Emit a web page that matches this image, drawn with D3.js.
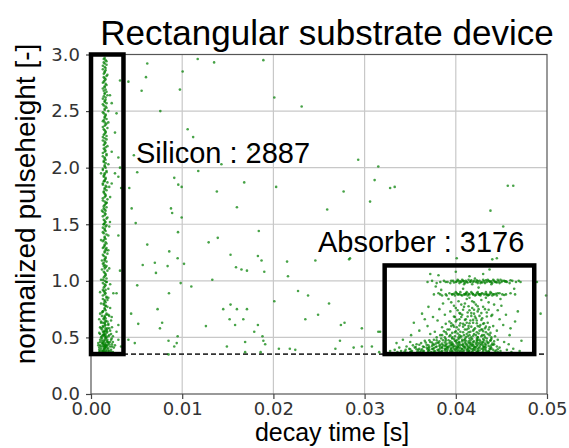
<!DOCTYPE html>
<html>
<head>
<meta charset="utf-8">
<script src="https://cdn.jsdelivr.net/npm/d3@7"></script>
<style>
  html, body { margin: 0; padding: 0; background: #fff; }
  svg { display: block; }
</style>
</head>
<body>
<div id="chart"></div>
<script>
// decay time in ms, normalized pulseheight
const siliconEvents = [
  [1.5,2.97],[1.6,2.95],[1.4,2.93],[1.7,2.91],[1.5,2.89],[1.3,2.87],[1.6,2.86],[1.5,2.84],[1.8,2.82],[1.4,2.80],
  [1.6,2.78],[1.5,2.77],[1.3,2.75],[1.7,2.73],[1.5,2.71],[1.6,2.69],[1.4,2.68],[1.5,2.66],[1.8,2.64],[1.6,2.62],
  [1.3,2.61],[1.5,2.59],[1.7,2.57],[1.4,2.55],[1.6,2.54],[1.5,2.52],[1.9,2.50],[1.3,2.49],[1.6,2.47],[1.5,2.45],
  [1.7,2.43],[1.4,2.42],[1.5,2.40],[1.6,2.38],[1.3,2.36],[1.8,2.35],[1.5,2.33],[1.6,2.31],[1.4,2.29],[1.7,2.28],
  [1.5,2.26],[1.3,2.24],[1.6,2.22],[1.5,2.21],[1.8,2.19],[1.4,2.17],[1.6,2.15],[1.5,2.14],[1.7,2.12],[1.3,2.10],
  [1.5,2.08],[1.6,2.07],[1.4,2.05],[1.9,2.03],[1.5,2.01],[1.6,2.00],[1.3,1.98],[1.7,1.96],[1.5,1.94],[1.4,1.93],
  [1.6,1.91],[1.5,1.89],[1.8,1.87],[1.3,1.86],[1.6,1.84],[1.5,1.82],[1.7,1.80],[1.4,1.79],[1.5,1.77],[1.6,1.75],
  [1.3,1.73],[1.8,1.72],[1.5,1.70],[1.6,1.68],[1.4,1.66],[1.7,1.65],[1.5,1.63],[1.3,1.61],[1.6,1.59],[1.5,1.58],
  [1.8,1.56],[1.4,1.54],[1.6,1.52],[1.5,1.51],[1.7,1.49],[1.3,1.47],[1.5,1.45],[1.6,1.44],[1.4,1.42],[1.9,1.40],
  [1.5,1.38],[1.6,1.37],[1.3,1.35],[1.7,1.33],[1.5,1.31],[1.4,1.30],[1.6,1.28],[1.5,1.26],[1.8,1.24],[1.3,1.23],
  [1.6,1.21],[1.5,1.19],[1.7,1.17],[1.4,1.16],[1.5,1.14],[1.6,1.12],[1.2,1.10],[1.8,1.09],[1.5,1.07],[1.6,1.05],
  [1.4,1.03],[1.7,1.02],[1.5,1.00],[1.3,0.98],[1.6,0.96],[1.5,0.95],[1.9,0.93],[1.4,0.91],[1.6,0.89],[1.5,0.88],
  [1.7,0.86],[1.3,0.84],[1.5,0.82],[1.6,0.81],[1.4,0.79],[1.8,0.77],[1.5,0.75],[1.6,0.74],[1.2,0.72],[1.7,0.70],
  [1.5,0.68],[1.4,0.67],[1.6,0.65],[1.5,0.63],[1.9,0.61],[1.3,0.60],[1.6,0.58],[1.5,0.56],[1.7,0.54],[1.4,0.53],
  [1.5,0.51],[1.6,0.49],[1.2,0.47],[1.8,0.46],[1.5,0.44],[1.6,0.42],[1.4,0.40],[1.7,0.39],[1.5,0.37],
  [1.4,2.96],[1.7,2.94],[1.5,2.92],[1.3,2.90],[1.6,2.88],[1.5,2.85],[1.4,2.83],[1.7,2.81],[1.5,2.79],[1.4,2.76],
  [1.6,2.74],[1.5,2.72],[1.3,2.70],[1.7,2.67],[1.5,2.65],[1.4,2.63],[1.6,2.60],[1.5,2.58],[1.3,2.56],[1.7,2.53],
  [1.5,2.51],[1.4,2.48],[1.6,2.46],[1.5,2.44],[1.3,2.41],[1.7,2.39],[1.5,2.37],[1.4,2.34],[1.6,2.32],[1.5,2.30],
  [1.3,2.27],[1.7,2.25],[1.5,2.23],[1.4,2.20],[1.6,2.18],[1.5,2.16],[1.3,2.13],[1.7,2.11],[1.5,2.09],[1.4,2.06],
  [1.6,2.04],[1.5,2.02],[1.3,1.99],[1.7,1.97],[1.5,1.95],[1.4,1.92],[1.6,1.90],[1.5,1.88],[1.3,1.85],[1.7,1.83],
  [1.5,1.81],[1.4,1.78],[1.6,1.76],[1.5,1.74],[1.3,1.71],[1.7,1.69],[1.5,1.67],[1.4,1.64],[1.6,1.62],[1.5,1.60],
  [1.3,1.57],[1.7,1.55],[1.5,1.53],[1.4,1.50],[1.6,1.48],[1.5,1.46],[1.3,1.43],[1.7,1.41],[1.5,1.39],[1.4,1.36],
  [1.6,1.34],[1.5,1.32],[1.3,1.29],[1.7,1.27],[1.5,1.25],[1.4,1.22],[1.6,1.20],[1.5,1.18],[1.3,1.15],[1.7,1.13],
  [1.5,1.11],[1.4,1.08],[1.6,1.06],[1.5,1.04],[1.3,1.01],[1.7,0.99],[1.5,0.97],[1.4,0.94],[1.6,0.92],[1.5,0.90],
  [1.3,0.87],[1.7,0.85],[1.5,0.83],[1.4,0.80],[1.6,0.78],[1.5,0.76],[1.3,0.73],[1.7,0.71],[1.5,0.69],[1.4,0.66],
  [1.6,0.64],[1.5,0.62],[1.3,0.59],[1.7,0.57],[1.5,0.55],[1.4,0.52],[1.6,0.50],[1.5,0.48],[1.3,0.45],[1.7,0.43],
  [1.5,0.41],[1.4,0.38],[1.6,0.36],
  [1.1,1.95],[2.0,1.83],[1.2,1.62],[2.0,1.48],[1.1,1.36],[1.9,1.27],[1.2,1.18],[2.0,1.11],[1.1,1.01],[2.1,0.97],
  [1.0,0.90],[1.9,0.85],[1.1,0.80],[2.1,0.76],[1.0,0.71],[2.0,0.69],[1.4,1.88],[1.7,1.69],[1.4,1.50],[1.7,1.29],
  [1.4,1.13],[1.7,0.99],[1.3,0.92],[1.8,0.83],[1.6,0.78],[1.3,0.73],
  [0.9,0.66],[1.1,0.64],[2.2,0.65],[1.9,0.62],[1.0,0.59],[2.3,0.59],[1.2,0.57],[1.8,0.55],[2.1,0.56],[0.9,0.54],
  [1.3,0.52],[2.0,0.52],[2.4,0.51],[1.1,0.50],[1.7,0.50],[1.0,0.48],[1.4,0.47],[2.2,0.48],[1.9,0.46],[0.8,0.45],
  [1.2,0.45],[1.6,0.45],[2.3,0.44],[1.0,0.43],[1.3,0.42],[1.8,0.43],[2.1,0.42],[2.5,0.41],[0.9,0.41],[1.1,0.40],
  [1.5,0.40],[1.9,0.40],[2.2,0.39],[1.0,0.38],[1.3,0.38],[1.6,0.38],[2.0,0.38],[2.4,0.37],[0.9,0.37],[1.2,0.36],
  [1.4,0.36],[1.8,0.36],[2.1,0.36],[1.1,0.35],[1.5,0.35],[1.7,0.35],[2.3,0.35],[1.3,0.37],[1.6,0.41],[1.4,0.43],
  [1.7,0.47],[1.2,0.49],[1.5,0.53],[1.8,0.58],[1.3,0.55],[1.6,0.61],[1.1,0.63],
  [1.0,0.36],[1.2,0.38],[1.4,0.39],[1.7,0.37],[1.9,0.38],[2.2,0.37],[0.9,0.39],[1.1,0.42],[1.5,0.42],[1.8,0.41],
  [2.0,0.44],[2.3,0.42],[0.8,0.43],[1.3,0.44],[1.6,0.43],[2.1,0.46],[1.0,0.46],[1.4,0.46],[1.8,0.48],[2.4,0.46],
  [1.2,0.51],[1.6,0.52],[1.9,0.51],[1.0,0.53],[2.2,0.53],[1.4,0.55],[1.7,0.56],[1.1,0.58],[2.0,0.58],[1.5,0.60],
  [1.3,0.63],[1.8,0.64],[1.6,0.67],[1.2,0.69],[1.9,0.70],
  [3.18,2.77],[2.08,2.64],[2.27,2.57],[2.8,2.48],[1.9,2.40],[2.63,2.31],[3.0,2.09],[2.27,2.14],[3.18,2.0],[2.63,1.95],
  [3.0,1.92],[3.3,1.82],[2.27,1.86],[2.1,1.74],[3.0,1.40],[2.08,1.52],[3.18,1.09],[2.45,0.89],[2.8,0.89],[2.27,0.68],
  [3.0,0.61],[2.8,0.55],[3.0,0.48],[2.27,0.49],[2.63,0.43],[3.3,0.42],[1.9,0.45]
];

const absorberEvents = [
  // ~1.0 line
  [36.9,0.99],[37.4,1.00],[37.9,0.98],[38.3,0.99],[38.7,1.00],[39.1,0.99],[39.4,0.98],[39.7,1.00],[40.0,0.99],[40.2,1.01],
  [40.4,0.98],[40.6,0.99],[40.8,1.00],[41.0,0.98],[41.2,0.99],[41.4,1.01],[41.6,0.99],[41.8,0.97],[42.0,1.00],[42.2,0.99],
  [42.4,0.98],[42.6,1.00],[42.8,0.99],[43.0,1.01],[43.2,0.98],[43.4,0.99],[43.6,1.00],[43.8,0.99],[44.0,0.98],[44.2,1.00],
  [44.4,0.99],[44.6,1.01],[44.8,0.98],[45.0,0.99],[45.3,1.00],[45.6,0.99],[45.9,0.98],[46.2,1.00],[46.6,0.99],[47.1,0.99],
  [40.3,1.00],[41.1,1.00],[41.9,0.99],[42.7,0.98],[43.5,1.01],[44.3,0.99],[45.1,1.00],[39.5,1.00],[42.1,1.02],[43.9,0.97],
  [40.9,0.97],[44.9,1.01],[41.5,1.04],[43.0,1.06],[38.1,1.05],[40.0,1.08],[37.2,1.06],[43.7,1.10],
  [39.8,0.985],[40.5,0.995],[41.3,0.985],[42.3,1.005],[42.9,0.985],[43.7,0.995],[44.5,0.985],[45.4,0.995],[46.0,1.005],[40.7,1.01],
  [41.7,1.005],[43.3,1.005],[44.1,1.01],[38.9,0.99],[46.9,1.00],
  [40.1,0.995],[40.9,0.995],[41.6,0.995],[42.4,0.995],[43.1,0.995],[43.9,0.995],[44.7,0.995],[45.5,0.995],
  // ~0.9 line
  [37.6,0.88],[38.1,0.89],[38.5,0.87],[38.9,0.88],[39.3,0.89],[39.6,0.88],[39.9,0.87],[40.1,0.89],[40.3,0.88],[40.5,0.90],
  [40.7,0.87],[40.9,0.88],[41.1,0.89],[41.3,0.87],[41.5,0.88],[41.7,0.90],[41.9,0.88],[42.1,0.87],[42.3,0.89],[42.5,0.88],
  [42.7,0.87],[42.9,0.89],[43.1,0.88],[43.3,0.90],[43.5,0.87],[43.7,0.88],[43.9,0.89],[44.2,0.88],[44.5,0.87],[44.8,0.89],
  [45.1,0.88],[45.5,0.88],[46.0,0.89],[46.5,0.88],[40.2,0.88],[41.0,0.88],[41.8,0.89],[42.6,0.88],[43.4,0.88],[44.0,0.87],
  [39.0,0.87],[44.6,0.89],
  [39.8,0.885],[40.6,0.875],[41.4,0.885],[42.2,0.875],[42.8,0.885],[43.6,0.875],[44.4,0.885],[45.3,0.875],[40.0,0.90],[41.2,0.90],
  [42.4,0.90],[43.8,0.90],[38.3,0.88],
  [39.6,0.882],[40.4,0.882],[41.1,0.882],[41.9,0.882],[42.6,0.882],[43.3,0.882],[44.1,0.882],
  // body
  [39.2,0.84],[41.5,0.85],[42.8,0.83],[40.3,0.82],[43.6,0.81],[38.6,0.80],[41.0,0.80],[42.2,0.79],[44.2,0.79],[39.8,0.78],
  [40.9,0.77],[43.0,0.77],[41.8,0.76],[38.2,0.75],[42.5,0.75],[44.6,0.74],[40.2,0.74],[39.4,0.73],[41.3,0.72],[43.4,0.72],
  [42.0,0.71],[40.7,0.70],[38.8,0.70],[43.9,0.69],[41.7,0.69],[39.9,0.68],[42.9,0.67],[41.1,0.66],[40.4,0.66],[44.8,0.66],
  [38.0,0.65],[42.3,0.65],[39.3,0.64],[43.5,0.63],[41.9,0.63],[40.8,0.62],[42.7,0.61],[39.7,0.61],[44.1,0.60],[41.4,0.60],
  [38.5,0.59],[40.1,0.59],[43.2,0.58],[42.1,0.58],[41.0,0.57],[39.1,0.57],[44.5,0.56],[42.6,0.56],[40.5,0.55],[41.6,0.55],
  [37.7,0.55],[43.8,0.54],[39.6,0.54],[42.0,0.53],[40.9,0.52],[38.3,0.52],[43.1,0.52],[41.3,0.51],[44.3,0.51],[39.9,0.51],
  [42.4,0.50],[40.3,0.50],[41.8,0.82],[43.3,0.85],[40.6,0.79],[42.4,0.73],[44.0,0.70],[41.2,0.63],[43.7,0.59],[39.5,0.60],
  [42.9,0.57],[40.0,0.64],[38.9,0.62],[45.2,0.61],[45.5,0.70],[46.0,0.58],[45.0,0.78],[37.5,0.68],[36.9,0.60],[37.2,0.53],
  [45.9,0.52],[46.5,0.64],[47.2,0.47],[46.8,0.73],[35.1,0.52],[34.2,0.48],[33.5,0.45],[36.0,0.56],[35.4,0.63],[36.3,0.71],
  [37.0,0.77],[38.4,0.92],[37.8,0.95],[46.4,0.93],[44.9,0.84],[40.8,0.93],[42.5,0.94],[39.5,0.81],[36.6,0.66],[35.0,0.46],
  [41.4,0.58],[40.4,0.605],[42.4,0.60],[43.0,0.62],[41.6,0.65],[40.6,0.68],[42.6,0.69],[41.5,0.74],[43.2,0.75],[40.0,0.76],
  [42.0,0.81],[41.2,0.84],[40.5,0.71],[42.2,0.67],[41.0,0.61],
  [39.5,0.625],[40.5,0.625],[41.5,0.625],[42.3,0.625],[43.1,0.625],
  [40.1,0.655],[41.0,0.655],[41.9,0.655],[42.8,0.655],
  [39.8,0.685],[41.3,0.685],[42.1,0.685],[43.4,0.685],
  [40.4,0.715],[41.7,0.715],[42.8,0.715],
  [40.8,0.745],[42.0,0.745],[43.6,0.745],
  [41.4,0.775],[42.4,0.775],
  // dense bottom
  [38.4,0.49],[39.6,0.49],[40.7,0.48],[41.5,0.49],[42.6,0.48],[43.4,0.49],[37.6,0.48],[44.6,0.48],
  [38.9,0.47],[39.9,0.47],[40.4,0.46],[41.1,0.47],[41.9,0.46],[42.3,0.47],[43.0,0.46],[43.8,0.47],[37.2,0.46],[36.6,0.47],[45.3,0.46],
  [38.1,0.45],[39.3,0.45],[39.7,0.44],[40.1,0.45],[40.8,0.44],[41.4,0.45],[41.8,0.44],[42.5,0.45],[42.9,0.44],[43.5,0.45],
  [44.2,0.44],[37.5,0.44],[36.2,0.45],[35.7,0.44],[45.8,0.44],
  [38.6,0.43],[39.0,0.42],[39.5,0.43],[40.0,0.42],[40.5,0.43],[41.0,0.42],[41.6,0.43],[42.0,0.42],[42.7,0.43],[43.2,0.42],
  [43.9,0.43],[44.5,0.42],[37.9,0.42],[37.0,0.43],[36.4,0.42],[35.3,0.43],[34.6,0.42],
  [38.3,0.41],[38.8,0.40],[39.2,0.41],[39.8,0.40],[40.3,0.41],[40.7,0.40],[41.3,0.41],[41.7,0.40],[42.2,0.41],[42.8,0.40],
  [43.3,0.41],[43.7,0.40],[44.8,0.41],[37.4,0.40],[36.8,0.41],[36.0,0.40],[35.5,0.41],[34.9,0.40],[33.8,0.41],[46.3,0.40],
  [38.0,0.39],[38.5,0.38],[39.1,0.39],[39.6,0.38],[40.2,0.39],[40.6,0.38],[41.2,0.39],[41.5,0.38],[42.1,0.39],[42.4,0.38],
  [43.0,0.39],[43.6,0.38],[44.1,0.39],[44.9,0.38],[37.7,0.38],[37.1,0.39],[36.5,0.38],[35.9,0.39],[35.2,0.38],[34.5,0.39],
  [34.0,0.38],[33.3,0.39],[32.8,0.38],[45.6,0.39],[47.0,0.38],
  [38.2,0.37],[38.7,0.36],[39.4,0.37],[39.9,0.36],[40.4,0.37],[40.9,0.36],[41.4,0.37],[41.9,0.36],[42.3,0.37],[42.7,0.36],
  [43.4,0.37],[44.0,0.36],[44.6,0.37],[37.3,0.37],[36.7,0.36],[36.1,0.37],[35.6,0.36],[35.0,0.37],[34.3,0.36],[33.6,0.37],
  [33.0,0.36],[45.3,0.36],[46.1,0.37],
  [38.4,0.35],[39.0,0.35],[39.7,0.35],[40.5,0.35],[41.1,0.35],[41.8,0.35],[42.5,0.35],[43.1,0.35],[37.8,0.35],[36.9,0.35],
  [35.8,0.35],[34.8,0.35],[44.3,0.35],[45.0,0.35],
  [38.0,0.355],[38.7,0.355],[39.3,0.355],[40.1,0.355],[40.8,0.355],[41.5,0.355],[42.1,0.355],[42.8,0.355],[43.5,0.355],[36.4,0.355],
  [37.3,0.355],[35.3,0.355],
  [37.9,0.365],[38.5,0.365],[39.1,0.365],[39.7,0.365],[40.2,0.365],[40.7,0.365],[41.2,0.365],[41.7,0.365],[42.2,0.365],[42.9,0.365],
  [43.7,0.365],[36.9,0.365],[35.9,0.365],[34.6,0.365],
  [38.1,0.385],[38.8,0.385],[39.4,0.385],[39.9,0.385],[40.4,0.385],[40.9,0.385],[41.4,0.385],[41.9,0.385],[42.6,0.385],[43.3,0.385],
  [44.4,0.385],[37.0,0.385],[36.2,0.385],
  [38.5,0.405],[39.0,0.405],[39.5,0.405],[40.1,0.405],[40.5,0.405],[41.0,0.405],[41.5,0.405],[42.0,0.405],[42.5,0.405],[43.0,0.405],
  [43.9,0.405],[37.6,0.405],[37.0,0.405],
  [38.2,0.425],[38.8,0.425],[39.3,0.425],[39.8,0.425],[40.3,0.425],[40.8,0.425],[41.3,0.425],[41.8,0.425],[42.3,0.425],[43.0,0.425],
  [43.6,0.425],[37.4,0.425],
  [38.5,0.445],[39.0,0.445],[39.5,0.445],[40.4,0.445],[41.1,0.445],[41.6,0.445],[42.2,0.445],[42.7,0.445],[43.2,0.445],[44.0,0.445],
  [37.8,0.445],
  [38.2,0.465],[39.4,0.465],[40.0,0.465],[40.7,0.465],[41.4,0.465],[42.0,0.465],[42.7,0.465],[43.4,0.465],[44.2,0.465],
  [38.9,0.485],[39.8,0.485],[40.3,0.485],[41.0,0.485],[41.8,0.485],[42.3,0.485],[43.0,0.485],[43.9,0.485],
  [39.3,0.51],[40.6,0.51],[41.9,0.515],[42.8,0.51],[39.0,0.53],[40.2,0.535],[41.2,0.53],[42.5,0.535],[43.5,0.53],[40.0,0.555],
  [41.9,0.56],[43.0,0.555],[38.7,0.555],
  [34.0,0.36],[34.9,0.36],[35.5,0.36],[36.0,0.36],[36.6,0.36],[37.5,0.36],[38.3,0.36],[39.2,0.36],[40.0,0.36],[40.6,0.36],
  [41.1,0.36],[41.6,0.36],[42.0,0.36],[42.5,0.36],[43.2,0.36],[43.9,0.36],
  [34.4,0.375],[35.1,0.375],[35.8,0.375],[36.4,0.375],[37.0,0.375],[37.6,0.375],[38.4,0.375],[39.0,0.375],[39.6,0.375],[40.1,0.375],
  [40.8,0.375],[41.3,0.375],[41.8,0.375],[42.4,0.375],[43.0,0.375],[43.6,0.375],[44.3,0.375],
  [35.0,0.395],[35.7,0.395],[36.3,0.395],[36.9,0.395],[37.5,0.395],[38.2,0.395],[38.9,0.395],[39.5,0.395],[40.0,0.395],[40.7,0.395],
  [41.3,0.395],[41.9,0.395],[42.4,0.395],[43.2,0.395],[43.8,0.395],[44.6,0.395],
  [35.6,0.415],[36.5,0.415],[37.1,0.415],[37.8,0.415],[38.5,0.415],[39.1,0.415],[39.7,0.415],[40.2,0.415],[40.9,0.415],[41.5,0.415],
  [42.1,0.415],[42.6,0.415],[43.1,0.415],[43.8,0.415],
  [36.0,0.435],[36.8,0.435],[37.6,0.435],[38.3,0.435],[38.9,0.435],[39.6,0.435],[40.2,0.435],[40.7,0.435],[41.2,0.435],[41.9,0.435],
  [42.4,0.435],[43.3,0.435],[44.1,0.435],
  [36.7,0.455],[37.4,0.455],[38.0,0.455],[38.8,0.455],[39.6,0.455],[40.3,0.455],[41.0,0.455],[41.6,0.455],[42.3,0.455],[42.9,0.455],
  [43.6,0.455],
  [37.1,0.475],[37.9,0.475],[38.6,0.475],[39.2,0.475],[40.1,0.475],[40.9,0.475],[41.6,0.475],[42.4,0.475],[43.1,0.475],[43.8,0.475],
  [37.9,0.50],[38.8,0.50],[39.6,0.50],[40.5,0.50],[41.1,0.50],[41.7,0.50],[42.4,0.50],[43.2,0.50],[43.9,0.50],
  [38.5,0.52],[39.4,0.52],[40.4,0.52],[41.5,0.52],[42.2,0.52],[42.9,0.52],[43.7,0.52],
  [38.9,0.545],[39.9,0.545],[40.8,0.545],[41.4,0.545],[42.3,0.545],[43.3,0.545],
  [39.3,0.57],[40.3,0.57],[41.2,0.57],[42.0,0.57],[42.8,0.57],[43.6,0.57],
  [39.8,0.595],[40.8,0.595],[41.7,0.595],[42.6,0.595],[43.3,0.595]
];

const otherEvents = [
  [6.17,2.92],[6.03,2.80],[5.55,2.68],[11.7,2.96],[13.5,2.93],[10.05,2.85],[9.75,2.69],[18.9,2.95],[20.1,2.62],[23.1,2.54],
  [7.6,2.50],[10.6,2.34],[11.2,2.27],[9.57,2.16],[4.7,2.11],[5.07,1.96],[9.13,1.91],[9.57,1.85],[9.94,1.83],[11.76,1.97],
  [16.8,1.87],[14.3,2.03],[17.5,2.16],[20.3,1.83],[13.8,1.79],[16.0,1.65],[8.77,1.64],[4.46,1.64],[29.3,2.07],[31.5,2.01],
  [31.1,1.89],[30.6,1.70],[27.7,1.79],[25.9,1.63],[4.9,1.51],[8.9,1.60],[9.94,1.56],[9.54,1.43],[6.17,1.32],[8.58,1.26],
  [5.67,1.14],[7.0,1.16],[7.12,1.07],[8.4,1.13],[9.5,1.20],[10.2,1.15],[12.9,1.34],[13.9,1.38],[15.3,1.23],[15.9,1.12],
  [16.5,1.10],[17.1,1.09],[18.4,1.44],[18.3,1.22],[18.7,1.18],[19.0,1.08],[13.3,1.01],[9.83,0.98],[11.0,0.95],[5.07,0.96],
  [8.55,0.89],[21.5,1.17],[21.6,1.04],[24.6,1.18],[28.3,1.19],[22.7,0.91],[23.8,0.87],[26.1,0.80],[20.1,0.82],[7.3,0.75],
  [4.4,0.71],[14.5,0.75],[15.3,0.79],[16.0,0.75],[17.1,0.75],[15.2,0.66],[16.7,0.66],[15.8,0.61],[12.6,0.60],[7.8,0.63],
  [7.56,0.58],[5.18,0.62],[18.3,0.61],[17.9,0.55],[18.8,0.51],[18.9,0.47],[19.1,0.44],[16.9,0.46],[14.9,0.42],[9.5,0.51],
  [8.5,0.47],[9.4,0.45],[9.13,0.42],[4.8,0.45],[20.6,0.40],[21.8,0.40],[22.4,0.39],[24.9,0.70],[27.4,0.61],[27.8,0.63],
  [29.7,0.58],[27.3,0.47],[26.8,0.40],[28.8,0.41],[29.7,0.42],[30.8,0.42],[31.5,0.55],[31.6,0.37],[16.9,0.37],[18.6,0.37],
  [8.5,0.35],[28.4,1.20],[23.5,0.66],[31.7,0.55],[48.9,0.99],[49.9,0.87],[49.3,0.71],[40.1,1.20],[44.0,1.19],[44.5,1.20],
  [45.2,1.48],[32.8,1.82],[33.3,1.83],[45.7,1.84],[46.3,1.84],[43.8,1.62],[4.1,2.76],[4.2,1.82],[4.1,0.48]
];

const xTicks = [0, 0.01, 0.02, 0.03, 0.04, 0.05];
const yTicks = [0, 0.5, 1.0, 1.5, 2.0, 2.5, 3.0];
const threshold = 0.353;
// selection boxes: [t0, t1] in ms, [h0, h1]
const boxes = [
  {name: "Silicon", count: 2887, t: [0, 3.56], h: [0.353, 3.0]},
  {name: "Absorber", count: 3176, t: [32.2, 48.6], h: [0.353, 1.136]}
];

const width = 569;
const height = 448;
const marginTop = 54.5;
const marginRight = 22;
const marginBottom = 54;
const marginLeft = 91;

const x = d3.scaleLinear().domain([0, 0.05]).range([marginLeft, width - marginRight]);
const y = d3.scaleLinear().domain([0, 3]).range([height - marginBottom, marginTop]);

const svg = d3.select("#chart")
  .append("svg")
  .attr("width", width)
  .attr("height", height)
  .attr("viewBox", `0 0 ${width} ${height}`);

// grid
const grid = svg.append("g").attr("stroke", "#c8c8c8").attr("stroke-width", 1.2);
grid.selectAll("line.v")
  .data(xTicks.slice(1, -1))
  .join("line")
  .attr("class", "v")
  .attr("x1", d => x(d)).attr("x2", d => x(d))
  .attr("y1", y(0)).attr("y2", y(3));
grid.selectAll("line.h")
  .data(yTicks.slice(1, -1))
  .join("line")
  .attr("class", "h")
  .attr("x1", x(0)).attr("x2", x(0.05))
  .attr("y1", d => y(d)).attr("y2", d => y(d));

// threshold
svg.append("line")
  .attr("x1", x(0)).attr("x2", x(0.05))
  .attr("y1", y(threshold)).attr("y2", y(threshold))
  .attr("stroke", "#333")
  .attr("stroke-width", 1.8)
  .attr("stroke-dasharray", "5,3");

// events
const allEvents = siliconEvents.concat(absorberEvents, otherEvents);
svg.append("g")
  .attr("fill", "green")
  .attr("fill-opacity", 0.72)
  .selectAll("circle")
  .data(allEvents)
  .join("circle")
  .attr("cx", d => x(d[0] / 1000))
  .attr("cy", d => y(d[1]))
  .attr("r", 1.3);

// frame
svg.append("rect")
  .attr("x", x(0)).attr("y", y(3))
  .attr("width", x(0.05) - x(0))
  .attr("height", y(0) - y(3))
  .attr("fill", "none")
  .attr("stroke", "#555")
  .attr("stroke-width", 1.2);

// axes
const xAxis = svg.append("g")
  .attr("transform", `translate(0,${y(0)})`)
  .call(d3.axisBottom(x).tickValues(xTicks).tickFormat(d3.format(".2f")).tickSize(5).tickPadding(3));
const yAxis = svg.append("g")
  .attr("transform", `translate(${x(0)},0)`)
  .call(d3.axisLeft(y).tickValues(yTicks).tickFormat(d3.format(".1f")).tickSize(5).tickPadding(6));
[xAxis, yAxis].forEach(g => {
  g.select(".domain").remove();
  g.selectAll(".tick line").attr("stroke", "#444").attr("stroke-width", 1.2);
  g.selectAll(".tick text")
    .attr("fill", "#333")
    .attr("font-family", "DejaVu Sans")
    .attr("font-size", 18);
});

// boxes
svg.append("g")
  .selectAll("rect")
  .data(boxes)
  .join("rect")
  .attr("x", d => x(d.t[0] / 1000))
  .attr("y", d => y(d.h[1]))
  .attr("width", d => x(d.t[1] / 1000) - x(d.t[0] / 1000))
  .attr("height", d => y(d.h[0]) - y(d.h[1]))
  .attr("fill", "none")
  .attr("stroke", "#000")
  .attr("stroke-width", 4.5);

// labels
const font = "Liberation Sans, Arial, sans-serif";
svg.append("text")
  .attr("x", 136).attr("y", 163)
  .attr("font-family", font).attr("font-size", 29)
  .text(`${boxes[0].name} : ${boxes[0].count}`);
svg.append("text")
  .attr("x", 318).attr("y", 251.5)
  .attr("font-family", font).attr("font-size", 29)
  .text(`${boxes[1].name} : ${boxes[1].count}`);

svg.append("text")
  .attr("x", 327).attr("y", 45)
  .attr("text-anchor", "middle")
  .attr("font-family", font).attr("font-size", 35)
  .text("Rectangular substrate device");

svg.append("text")
  .attr("x", 332).attr("y", 441)
  .attr("text-anchor", "middle")
  .attr("font-family", font).attr("font-size", 25)
  .text("decay time [s]");

svg.append("text")
  .attr("transform", "translate(35,204) rotate(-90)")
  .attr("text-anchor", "middle")
  .attr("font-family", font).attr("font-size", 28)
  .text("normalized pulseheight [-]");
</script>
</body>
</html>
